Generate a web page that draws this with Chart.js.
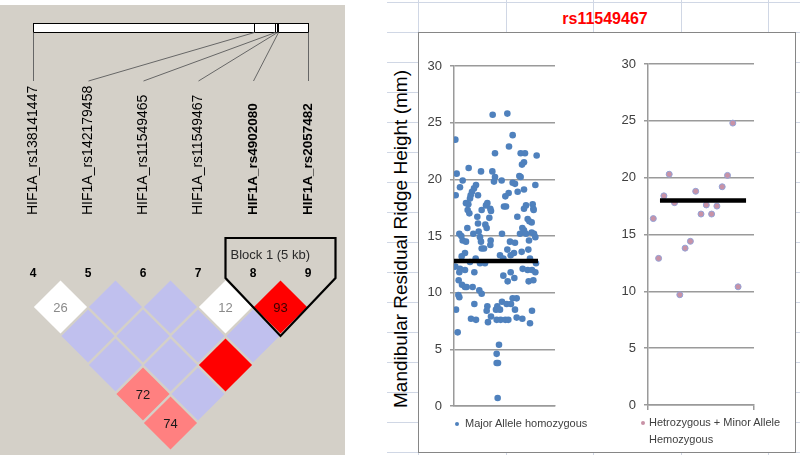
<!DOCTYPE html>
<html>
<head>
<meta charset="utf-8">
<script src="https://cdn.jsdelivr.net/npm/chart.js@4.4.1/dist/chart.umd.min.js"></script>
<style>
  body { margin: 0; background: #fff; }
  #page { position: relative; width: 800px; height: 455px; overflow: hidden; background: #fff;
          font-family: "Liberation Sans", Arial, sans-serif; }
  #ldPanel { position: absolute; left: 0; top: 5px; width: 345px; height: 450px; background: #d4d0c8; }
  .gh { position: absolute; height: 1px; background: #d0d7e5; }
  .gv { position: absolute; width: 1px; background: #d0d7e5; }
  #box { position: absolute; left: 418px; top: 32px; width: 376px; height: 419px; background: #fff; border: 1px solid #868686; }
  #title { position: absolute; left: 505px; top: 10px; width: 200px; text-align: center; color: #ff0000;
           font: bold 16px "Liberation Sans", Arial, sans-serif; }
  #ylab { position: absolute; left: 401px; top: 239px; transform: translate(-50%, -50%) rotate(-90deg);
          white-space: nowrap; font-size: 19px; color: #000; }
  canvas { position: absolute; }
  .leg { position: absolute; font-size: 11px; color: #404040; line-height: 17px; white-space: nowrap; }
  .dot { position: absolute; width: 4px; height: 4px; border-radius: 50%; }
</style>
</head>
<body>
<div id="page">
  <div id="ldPanel"></div>
  <canvas id="ld" width="345" height="455" style="left:0;top:0"></canvas>
  <div id="sheet"></div>
  <div id="title">rs11549467</div>
  <div id="box"></div>
  <div id="ylab">Mandibular Residual Ridge Height (mm)</div>
  <canvas id="major" width="150" height="418" style="left:419px;top:33px"></canvas>
  <canvas id="minor" width="189" height="418" style="left:605px;top:33px"></canvas>
  <div class="dot" style="left:455px;top:422px;background:#4f81bd"></div>
  <div class="leg" style="left:465px;top:415px">Major Allele homozygous</div>
  <div class="dot" style="left:641px;top:421px;background:#c892a6"></div>
  <div class="leg" style="left:649px;top:414px">Hetrozygous + Minor Allele<br>Hemozygous</div>
</div>
<script>
// LD plot (Haploview style)
const snpNames = ['HIF1A_rs138141447', 'HIF1A_rs142179458', 'HIF1A_rs11549465',
                  'HIF1A_rs11549467', 'HIF1A_rs4902080', 'HIF1A_rs2057482'];
const snpNumbers = [4, 5, 6, 7, 8, 9];
const snpBold = [false, false, false, false, true, true];
const snpBarFrac = [0, 0.8036, 0.88, 0.8855, 0.891, 1];
const ldFirst  = [4, 5, 6, 7, 8, 4, 5, 6, 7, 4, 5, 6, 4, 5, 4];
const ldSecond = [5, 6, 7, 8, 9, 6, 7, 8, 9, 7, 8, 9, 8, 9, 9];
const ldLabel  = ['26', '', '', '12', '93', '', '', '', '', '', '', '', '72', '', '74'];
const ldLevel  = ['white', 'low', 'low', 'white', 'high', 'low', 'low', 'low', 'low',
                  'low', 'low', 'high', 'mid', 'low', 'mid'];
const blockSnps = [8, 9];
const blockName = 'Block 1 (5 kb)';

// scatter data
const majorX = [116,160,4,176,165,123,200,213,248,210,204,8,44,81,115,123,120,143,26,196,
  200,176,183,244,66,18,60,210,54,50,5,72,164,154,191,48,36,43,41,100,
  96,83,109,111,150,156,216,210,236,238,239,46,70,106,190,221,226,233,72,94,
  98,40,144,205,210,16,22,74,58,78,198,216,233,240,244,26,36,110,81,168,
  183,225,83,90,109,223,33,160,170,180,203,23,138,148,65,228,246,4,18,16,
  33,48,61,78,93,206,221,234,244,148,161,170,181,224,238,14,24,33,38,56,
  76,83,13,16,176,188,144,158,171,61,100,130,6,98,126,138,183,234,111,51,
  66,128,140,154,163,188,205,102,228,11,135,128,132,128,131];
const majorY = [25.7,25.8,23.5,23.9,22.9,22.3,22.3,22.3,22.1,21.5,21.3,20.5,21.0,20.7,20.7,20.2,19.8,19.9,19.9,20.3,
  20.2,19.7,19.6,19.5,19.5,19.3,19.2,19.1,18.9,18.6,18.6,18.6,18.8,18.5,18.9,18.3,17.9,17.8,17.3,17.9,
  17.7,17.3,17.4,17.2,17.6,17.6,17.7,17.4,17.8,17.4,17.3,17.0,16.7,16.6,16.7,16.5,16.3,16.2,16.1,16.0,
  15.7,15.7,15.2,15.7,15.5,15.2,15.0,15.4,15.2,14.9,15.2,15.2,15.3,15.2,14.9,14.6,14.5,14.6,14.5,14.5,
  14.4,14.6,13.9,13.9,14.2,13.8,13.5,13.8,13.3,13.5,13.6,13.2,13.3,13.0,13.0,13.0,12.6,12.3,12.1,11.8,
  12.0,12.7,11.8,12.6,12.6,12.1,12.0,12.0,11.8,11.5,11.0,11.8,11.3,11.0,11.1,11.1,10.7,10.5,10.5,10.5,
  10.2,9.9,9.8,9.6,9.5,9.5,9.2,9.0,9.0,9.0,8.8,8.8,8.5,8.4,8.5,8.5,8.5,8.4,7.9,7.7,
  7.6,7.6,7.6,7.6,7.6,7.8,7.7,7.4,7.3,6.5,5.4,4.6,3.8,3.8,0.7];
const majorMean = 12.8;
const majorMeanSpan = [0, 252];

const minorX = [1, 2, 3, 4, 5, 6, 7, 8, 9, 10, 11, 12, 13, 14, 15, 16, 17];
const minorY = [16.4, 12.9, 18.4, 20.3, 17.8, 9.7, 13.8, 14.4, 18.8, 16.8, 17.6, 16.8, 17.5, 19.2, 20.2, 24.8, 10.4];
const minorMean = 18.0;
const minorMeanSpan = [2.26, 18.5];

const yTicks = [0, 5, 10, 15, 20, 25, 30];

Chart.defaults.font.family = '"Liberation Sans", Arial, sans-serif';

// excel sheet gridlines behind the chart box
const sheet = document.getElementById('sheet');
for (let y = 2; y < 455; y += 30) {
  const d = document.createElement('div');
  d.className = 'gh';
  d.style.cssText = 'left:387px;width:413px;top:' + y + 'px';
  sheet.appendChild(d);
}
[418, 506, 593, 681, 768].forEach(x => {
  const d = document.createElement('div');
  d.className = 'gv';
  d.style.cssText = 'top:0;height:455px;left:' + x + 'px';
  sheet.appendChild(d);
});

const levelColour = { white: '#ffffff', low: '#c0c0ee', mid: '#ff8080', high: '#ff0000' };
const labelColour = { white: '#8a8a8a', low: '#000', mid: '#1a1a1a', high: '#3a0000' };

const ldDecor = {
  id: 'ldDecor',
  afterDatasetsDraw(chart) {
    const ctx = chart.ctx;
    const xs = chart.scales.x, ys = chart.scales.y;
    const px = snpNumbers.map(n => xs.getPixelForValue(n));
    ctx.save();
    // physical map bar
    const x0 = px[0], x1 = px[px.length - 1];
    ctx.fillStyle = '#fff';
    ctx.fillRect(x0, 23.5, x1 - x0, 9);
    ctx.strokeStyle = '#000';
    ctx.lineWidth = 1;
    ctx.strokeRect(Math.round(x0) + 0.5, 23.5, Math.round(x1 - x0), 9);
    snpBarFrac.forEach((f, k) => {
      const bx = Math.round(x0 + f * (x1 - x0)) + 0.5;
      ctx.strokeStyle = '#000';
      ctx.beginPath(); ctx.moveTo(bx, 23.5); ctx.lineTo(bx, 32.5); ctx.stroke();
      ctx.strokeStyle = '#666';
      ctx.beginPath(); ctx.moveTo(bx, 32.5); ctx.lineTo(Math.round(px[k]) + 0.5, 81); ctx.stroke();
    });
    // rotated names
    snpNames.forEach((name, k) => {
      ctx.save();
      ctx.translate(px[k], 215);
      ctx.rotate(-Math.PI / 2);
      ctx.font = (snpBold[k] ? 'bold 13.5px' : '14px') + ' "Liberation Sans", Arial, sans-serif';
      ctx.fillStyle = '#000';
      ctx.textAlign = 'left';
      ctx.textBaseline = 'middle';
      ctx.fillText(name, 0, 0);
      ctx.restore();
    });
    // marker numbers
    ctx.font = 'bold 12px "Liberation Sans", Arial, sans-serif';
    ctx.fillStyle = '#000';
    ctx.textAlign = 'center';
    ctx.textBaseline = 'middle';
    snpNumbers.forEach((n, k) => ctx.fillText(String(n), px[k], 274));
    // cell values
    ctx.font = '13px "Liberation Sans", Arial, sans-serif';
    const meta = chart.getDatasetMeta(0);
    meta.data.forEach((pt, k) => {
      if (!ldLabel[k]) return;
      ctx.fillStyle = labelColour[ldLevel[k]];
      ctx.fillText(ldLabel[k], pt.x, pt.y + 1);
    });
    // haplotype block outline
    const a = blockSnps[0], b = blockSnps[blockSnps.length - 1];
    const xl = xs.getPixelForValue(a - 0.5), xr = xs.getPixelForValue(b + 0.5);
    const xm = xs.getPixelForValue((a + b) / 2);
    const yTop = ys.getPixelForValue(-1.38), ySide = ys.getPixelForValue(0);
    const yBot = ys.getPixelForValue(b - a + 1);
    ctx.strokeStyle = '#000';
    ctx.lineWidth = 2.2;
    ctx.lineJoin = 'miter';
    ctx.beginPath();
    ctx.moveTo(xl, yTop); ctx.lineTo(xr, yTop); ctx.lineTo(xr, ySide);
    ctx.lineTo(xm, yBot); ctx.lineTo(xl, ySide); ctx.closePath();
    ctx.stroke();
    ctx.font = '13px "Liberation Sans", Arial, sans-serif';
    ctx.fillStyle = '#2a2a2a';
    ctx.textAlign = 'left';
    ctx.fillText(blockName, xl + 5, 255);
    ctx.restore();
  }
};

new Chart(document.getElementById('ld'), {
  type: 'scatter',
  data: {
    datasets: [{
      data: ldFirst.map((a, k) => ({ x: (a + ldSecond[k]) / 2, y: ldSecond[k] - a })),
      pointStyle: 'rectRot',
      pointRadius: 26.6,
      pointHoverRadius: 26.6,
      backgroundColor: ldLevel.map(l => levelColour[l]),
      borderWidth: 0,
      clip: false,
    }],
  },
  options: {
    responsive: false,
    animation: false,
    events: [],
    layout: { padding: 0, autoPadding: false },
    plugins: { legend: { display: false }, tooltip: { enabled: false } },
    scales: {
      x: { type: 'linear', display: false, min: 3.4, max: 9.6727 },
      y: { type: 'linear', display: false, reverse: true, min: -9.5862, max: 6.1035 },
    },
  },
  plugins: [ldDecor],
});

const gridGrey = '#9a9a9a';

function axisOptions(o) {
  return {
    responsive: false,
    animation: false,
    events: [],
    layout: { padding: { left: 0, right: o.padRight, top: o.padTop, bottom: o.padBottom }, autoPadding: false },
    plugins: { legend: { display: false }, tooltip: { enabled: false } },
    scales: {
      x: {
        type: 'linear', min: 0, max: o.xMax,
        afterFit: s => { s.height = 5; },
        ticks: { display: false, stepSize: o.xMax },
        grid: { display: o.xTicks, drawOnChartArea: false, tickLength: 5, color: gridGrey, lineWidth: 1.5 },
        border: { display: true, color: gridGrey, width: 1.5 },
      },
      y: {
        type: 'linear', min: 0, max: 30,
        afterFit: s => { s.width = o.yWidth; },
        afterBuildTicks: s => { s.ticks = yTicks.map(v => ({ value: v })); },
        ticks: { padding: 8, color: '#404040', font: { size: 13 } },
        grid: { color: gridGrey, lineWidth: 1.5, tickLength: 4 },
        border: { color: gridGrey, width: 1.5 },
      },
    },
  };
}

new Chart(document.getElementById('major'), {
  type: 'scatter',
  data: {
    datasets: [
      {
        data: majorMeanSpan.map(x => ({ x, y: majorMean })),
        showLine: true, borderColor: '#000', borderWidth: 4.5, pointRadius: 0,
      },
      {
        data: majorX.map((x, k) => ({ x, y: majorY[k] })),
        pointRadius: 3.3, backgroundColor: '#4f81bd', borderWidth: 0,
      },
    ],
  },
  options: axisOptions({ xMax: 303, padRight: 14, padTop: 33, padBottom: 40, yWidth: 35, xTicks: false }),
});

new Chart(document.getElementById('minor'), {
  type: 'scatter',
  data: {
    datasets: [
      {
        data: minorMeanSpan.map(x => ({ x, y: minorMean })),
        showLine: true, borderColor: '#000', borderWidth: 4.5, pointRadius: 0,
      },
      {
        data: minorX.map((x, k) => ({ x, y: minorY[k] })),
        pointRadius: 3, backgroundColor: '#c892a6', borderColor: '#94a2d6', borderWidth: 1,
      },
    ],
  },
  options: axisOptions({ xMax: 20, padRight: 40, padTop: 31, padBottom: 41, yWidth: 43, xTicks: true }),
});
</script>
</body>
</html>
